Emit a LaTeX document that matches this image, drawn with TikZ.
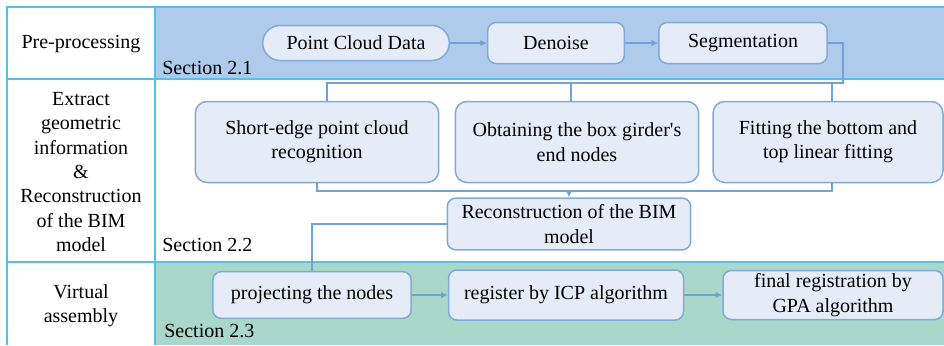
\documentclass[tikz,border=0pt]{standalone}
\usepackage{fontspec}
\setmainfont{Liberation Serif}
\usetikzlibrary{arrows.meta,calc}
\definecolor{gridline}{HTML}{4DC3EF}
\definecolor{rowblue}{HTML}{AFCAEA}
\definecolor{rowgreen}{HTML}{A9D8CB}
\definecolor{boxfill}{HTML}{E5EBF7}
\definecolor{boxline}{HTML}{7FAAD9}
\definecolor{wire}{HTML}{72A3D8}

\begin{document}
\begin{tikzpicture}[x=0.6pt,y=-0.6pt,
    every node/.style={font=\fontsize{12}{14.6}\selectfont},
    box/.style={draw=boxline,fill=boxfill,line width=0.9pt,rounded corners=5pt,align=center,inner sep=0pt},
    link/.style={draw=wire,line width=0.9pt},
    flow/.style={link,-{Latex[length=4pt,width=4pt]}}]
    \useasboundingbox (0,0) rectangle (944,345);
    % table
    \fill[rowblue] (155,7) rectangle (944,79);
    \fill[rowgreen] (155,262) rectangle (944,345);
    \draw[gridline,line width=0.9pt] (7,345) -- (7,7) -- (944,7) (155,7) -- (155,345) (7,79) -- (944,79) (7,262) -- (944,262);
    \node (Pre) at (81,44) {Pre-processing};
    \node[align=center] (Extract) at (81,172) {Extract\\geometric\\information\\\&\\Reconstruction\\of the BIM\\model};
    \node[align=center] (Virtual) at (81,306) {Virtual\\assembly};
    \node[anchor=base west,inner sep=0pt] (Sec1) at (162,74) {Section 2.1};
    \node[anchor=base west,inner sep=0pt] (Sec2) at (162,251) {Section 2.2};
    \node[anchor=base west,inner sep=0pt] (Sec3) at (164,337) {Section 2.3};
    % steps
    \node[box,rounded corners=10.5pt,minimum width=112pt,minimum height=21pt] (Pcd) at (356,43) {Point Cloud Data};
    \node[box,minimum width=82pt,minimum height=24.6pt] (Denoise) at (556,43) {Denoise};
    \node[box,minimum width=101pt,minimum height=24.6pt] (Seg) at (743,43) {Segmentation};
    \node[box,rounded corners=7pt,minimum width=146pt,minimum height=48.6pt] (Short) at (317,142) {Short-edge point cloud\\recognition};
    \node[box,rounded corners=7pt,minimum width=146pt,minimum height=48.6pt] (Ends) at (577,142) {Obtaining the box girder\textquotesingle s\\end nodes};
    \node[box,rounded corners=7pt,minimum width=138pt,minimum height=48.6pt] (Fit) at (828,142) {Fitting the bottom and\\top linear fitting};
    \node[box,minimum width=146pt,minimum height=31pt] (Recon) at (569,224) {Reconstruction of the BIM\\model};
    \node[box,minimum width=119pt,minimum height=28pt] (Proj) at (312,295) {projecting the nodes};
    \node[box,minimum width=141pt,minimum height=30pt] (Icp) at (566,295) {register by ICP algorithm};
    \node[box,minimum width=132pt,minimum height=29.4pt] (Gpa) at (833,295) {final registration by\\GPA algorithm};
    % connectors
    \coordinate (Split) at (843,83);
    \coordinate (Merge) at (569,191);
    \draw[flow] (Pcd.east) -- (Denoise.west);
    \draw[flow] (Denoise.east) -- (Seg.west);
    \draw[link] (Seg.east) -| (Split) -| ([xshift=6pt]Short.north);
    \draw[link] (Split) -| ([xshift=-3.6pt]Ends.north);
    \draw[link] (Split) -| ([xshift=2.4pt]Fit.north);
    \draw[link] (Short.south) |- (Merge) -| ([xshift=2.4pt]Fit.south);
    \draw[flow] (Merge) -- (Recon.north);
    \draw[link] (Recon.west) -| (Proj.north);
    \draw[flow] (Proj.east) -- (Icp.west);
    \draw[flow] (Icp.east) -- (Gpa.west);
\end{tikzpicture}
\end{document}
